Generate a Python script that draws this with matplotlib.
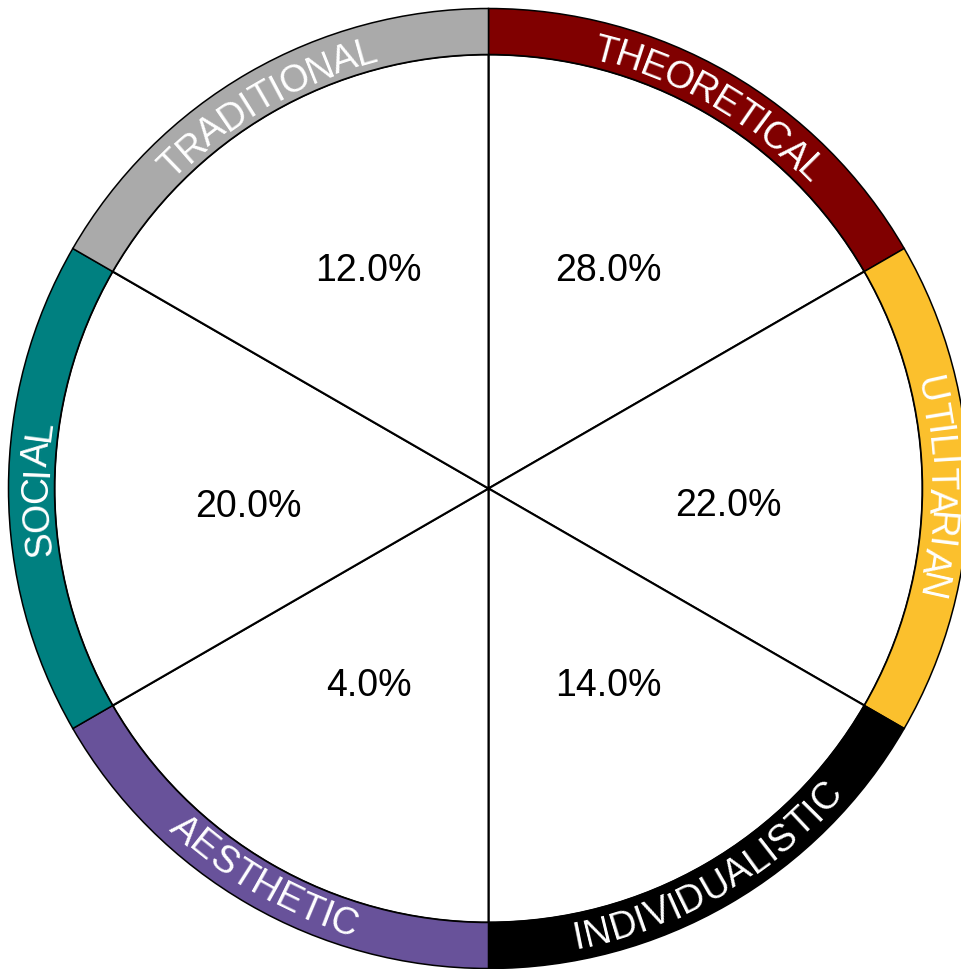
import math

import matplotlib
matplotlib.use("Agg")
import matplotlib.pyplot as plt
from matplotlib.patches import Wedge
from matplotlib.font_manager import FontProperties
from matplotlib.textpath import text_to_path

# values, clockwise from 12 o'clock
categories = ["THEORETICAL", "UTILITARIAN", "INDIVIDUALISTIC", "AESTHETIC", "SOCIAL", "TRADITIONAL"]
percentages = [28.0, 22.0, 14.0, 4.0, 20.0, 12.0]
ring_colors = ["#800000", "#fbc02d", "#000000", "#68529a", "#008080", "#aaaaaa"]

W, H, DPI = 961, 969, 100
CX, CY = 488.5, H - 488.5
R_OUT, R_IN = 480, 434
R_TEXT = 455
R_PCT = 240
FONT = ["Liberation Sans", "Arial", "DejaVu Sans"]
FS = 27

fig = plt.figure(figsize=(W / DPI, H / DPI), dpi=DPI)
ax = fig.add_axes([0, 0, 1, 1])
ax.set_xlim(0, W)
ax.set_ylim(0, H)
ax.axis("off")

prop = FontProperties(family=FONT, size=FS)


def text_width(s):
    # unhinted width, converted from points to pixels (= data units here)
    if not s:
        return 0.0
    return text_to_path.get_text_width_height_descent(s, prop, ismath=False)[0] * DPI / 72


def curved_label(text, mid_deg, radius, color):
    # letters follow the arc; bottom half reads counter-clockwise so it stays upright
    m = mid_deg % 360
    clockwise = not (180 < m < 360)
    cap = 0.716 * FS * DPI / 72
    r_base = radius - cap / 2 if clockwise else radius + cap / 2
    total = text_width(text)
    for i, ch in enumerate(text):
        s = (text_width(text[:i]) + text_width(text[:i + 1])) / 2 - total / 2
        d = math.degrees(s / radius)
        theta = mid_deg - d if clockwise else mid_deg + d
        t = math.radians(theta)
        x = CX + r_base * math.cos(t)
        y = CY + r_base * math.sin(t)
        rot = theta - 90 if clockwise else theta + 90
        ax.text(x, y, ch, rotation=rot, rotation_mode="anchor",
                ha="center", va="baseline", color=color,
                fontproperties=prop)


step = 360 / len(categories)
for i, (cat, pct, col) in enumerate(zip(categories, percentages, ring_colors)):
    t2 = 90 - i * step
    t1 = t2 - step
    mid = (t1 + t2) / 2

    ax.add_patch(Wedge((CX, CY), R_IN, t1, t2, facecolor="white",
                       edgecolor="black", linewidth=1.5))
    ax.add_patch(Wedge((CX, CY), R_OUT, t1, t2, width=R_OUT - R_IN,
                       facecolor=col, edgecolor="black", linewidth=1.1))

    curved_label(cat, mid, R_TEXT, "white")

    a = math.radians(mid)
    va = "baseline" if abs(math.sin(a)) > 0.5 else "top"
    ax.text(CX + R_PCT * math.cos(a), CY + R_PCT * math.sin(a), f"{pct:.1f}%",
            ha="center", va=va, color="black", fontproperties=prop)

fig.savefig("out.png", dpi=DPI)
